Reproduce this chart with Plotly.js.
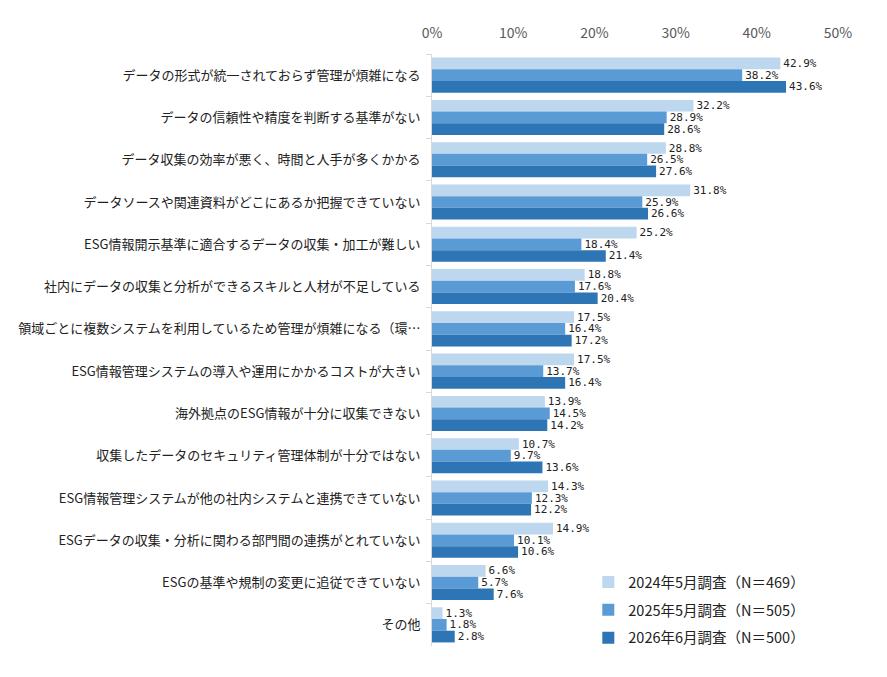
<!DOCTYPE html>
<html>
<head>
<meta charset="utf-8">
<script src="https://cdn.plot.ly/plotly-3.0.1.min.js"></script>
<style>html,body{margin:0;padding:0;background:#fff;}</style>
</head>
<body>
<div id="chart" style="width:887px;height:677px;"></div>
<script>
const categories = [
  "データの形式が統一されておらず管理が煩雑になる",
  "データの信頼性や精度を判断する基準がない",
  "データ収集の効率が悪く、時間と人手が多くかかる",
  "データソースや関連資料がどこにあるか把握できていない",
  "ESG情報開示基準に適合するデータの収集・加工が難しい",
  "社内にデータの収集と分析ができるスキルと人材が不足している",
  "領域ごとに複数システムを利用しているため管理が煩雑になる（環…",
  "ESG情報管理システムの導入や運用にかかるコストが大きい",
  "海外拠点のESG情報が十分に収集できない",
  "収集したデータのセキュリティ管理体制が十分ではない",
  "ESG情報管理システムが他の社内システムと連携できていない",
  "ESGデータの収集・分析に関わる部門間の連携がとれていない",
  "ESGの基準や規制の変更に追従できていない",
  "その他"
];
const seriesNames = [
  "2024年5月調査（N＝469）",
  "2025年5月調査（N＝505）",
  "2026年6月調査（N＝500）"
];
const values2024 = [42.9, 32.2, 28.8, 31.8, 25.2, 18.8, 17.5, 17.5, 13.9, 10.7, 14.3, 14.9, 6.6, 1.3];
const values2025 = [38.2, 28.9, 26.5, 25.9, 18.4, 17.6, 16.4, 13.7, 14.5, 9.7, 12.3, 10.1, 5.7, 1.8];
const values2026 = [43.6, 28.6, 27.6, 26.6, 21.4, 20.4, 17.2, 16.4, 14.2, 13.6, 12.2, 10.6, 7.6, 2.8];
const xTickVals = [0, 10, 20, 30, 40, 50];
const xTickText = ["0%", "10%", "20%", "30%", "40%", "50%"];

const colors = ["#BDD7EE", "#5B9BD5", "#2E75B6"];
const allValues = [values2024, values2025, values2026];

const traces = allValues.map((vals, i) => ({
  type: "bar",
  orientation: "h",
  name: seriesNames[i],
  y: categories,
  x: vals,
  marker: {color: colors[i]},
  text: vals.map(v => v.toFixed(1) + "%"),
  textposition: "outside",
  constraintext: "none",
  cliponaxis: false,
  textfont: {family: "DejaVu Sans Mono, monospace", size: 11, color: "#222"},
  legendgroup: "g" + i,
  hoverinfo: "none"
}));

const layout = {
  width: 887,
  height: 677,
  margin: {l: 432, r: 49, t: 54, b: 31},
  paper_bgcolor: "#fff",
  plot_bgcolor: "#fff",
  barmode: "group",
  bargap: 0.17,
  bargroupgap: 0,
  font: {family: "Noto Sans CJK JP, sans-serif", size: 12, color: "#222"},
  xaxis: {
    side: "top",
    range: [0, 50],
    tickvals: xTickVals,
    ticktext: xTickText,
    showgrid: false,
    zeroline: false,
    showline: false,
    ticks: "",
    tickfont: {size: 14, color: "#595959"},
    ticklabelstandoff: 12,
    fixedrange: true
  },
  yaxis: {
    autorange: "reversed",
    showline: true,
    linecolor: "#D9D9D9",
    linewidth: 1,
    ticks: "outside",
    tickson: "boundaries",
    ticklen: 5,
    tickcolor: "#D9D9D9",
    showgrid: false,
    tickfont: {size: 13, color: "#222"},
    ticklabelstandoff: 8
  },
  showlegend: true,
  legend: {
    x: 0.385,
    y: 0.135,
    xanchor: "left",
    yanchor: "top",
    traceorder: "grouped",
    tracegroupgap: 6,
    font: {size: 14.5, color: "#222"},
    bgcolor: "rgba(0,0,0,0)",
    itemwidth: 30
  }
};

Plotly.newPlot("chart", traces, layout, {displayModeBar: false, staticPlot: true});
</script>
</body>
</html>
